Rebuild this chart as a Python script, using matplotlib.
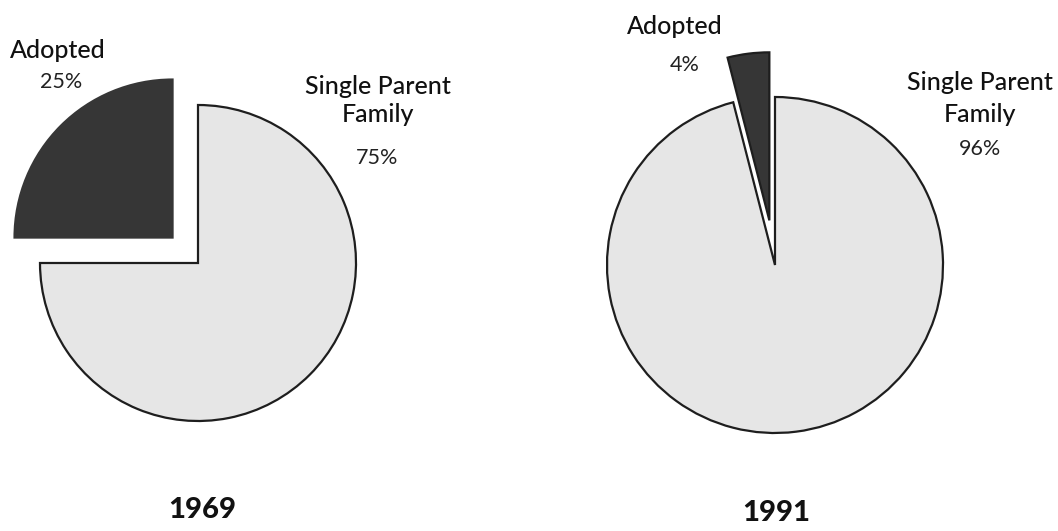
import matplotlib
matplotlib.use("Agg")
import matplotlib.pyplot as plt

years = ["1969", "1991"]
categories = ["Adopted", "Single Parent Family"]
share_1969 = [25, 75]
share_1991 = [4, 96]

plt.rcParams['font.family'] = ['Lato', 'DejaVu Sans']

W, H = 1058, 531
fig = plt.figure(figsize=(W / 100, H / 100), dpi=100)
ax = fig.add_axes([0, 0, 1, 1])

light = "#e6e6e6"
dark = "#363636"
edge = "#1e1e1e"

def draw(values, center, radius, explode):
    wedges, _ = ax.pie(values, startangle=90, counterclock=True,
                       center=center, radius=radius,
                       explode=[explode, 0], colors=[dark, light],
                       wedgeprops=dict(linewidth=1.6, edgecolor=edge))
    return wedges

w1 = draw(share_1969, (198, H - 263), 158, 36)
w1[0].set_edgecolor(dark)
w2 = draw(share_1991, (775, H - 265), 168, 45)
ax.set_xlim(0, W)
ax.set_ylim(0, H)
ax.set_aspect('equal')
ax.axis('off')

name_kw = dict(ha='center', va='center', fontsize=18, color='#111111', fontweight='medium')
pct_kw = dict(ha='center', va='center', fontsize=15.5, color='#222222', fontweight='normal')

# 1969 labels
ax.text(58, H - 50, categories[0], **name_kw)
ax.text(61, H - 82, f"{share_1969[0]}%", **pct_kw)
ax.text(378, H - 87, "Single Parent", **name_kw)
ax.text(378, H - 114, "Family", **name_kw)
ax.text(377, H - 158, f"{share_1969[1]}%", **pct_kw)

# 1991 labels
ax.text(675, H - 27, categories[0], **name_kw)
ax.text(685, H - 65, f"{share_1991[0]}%", **pct_kw)
ax.text(980, H - 83, "Single Parent", **name_kw)
ax.text(980, H - 115, "Family", **name_kw)
ax.text(980, H - 149, f"{share_1991[1]}%", **pct_kw)

# year titles
ax.text(202, H - 510, years[0], ha='center', va='center', fontsize=21,
        fontweight='black', color='#111111')
ax.text(776, H - 513, years[1], ha='center', va='center', fontsize=21,
        fontweight='black', color='#111111')

fig.savefig("out.png", dpi=100, facecolor='white')
